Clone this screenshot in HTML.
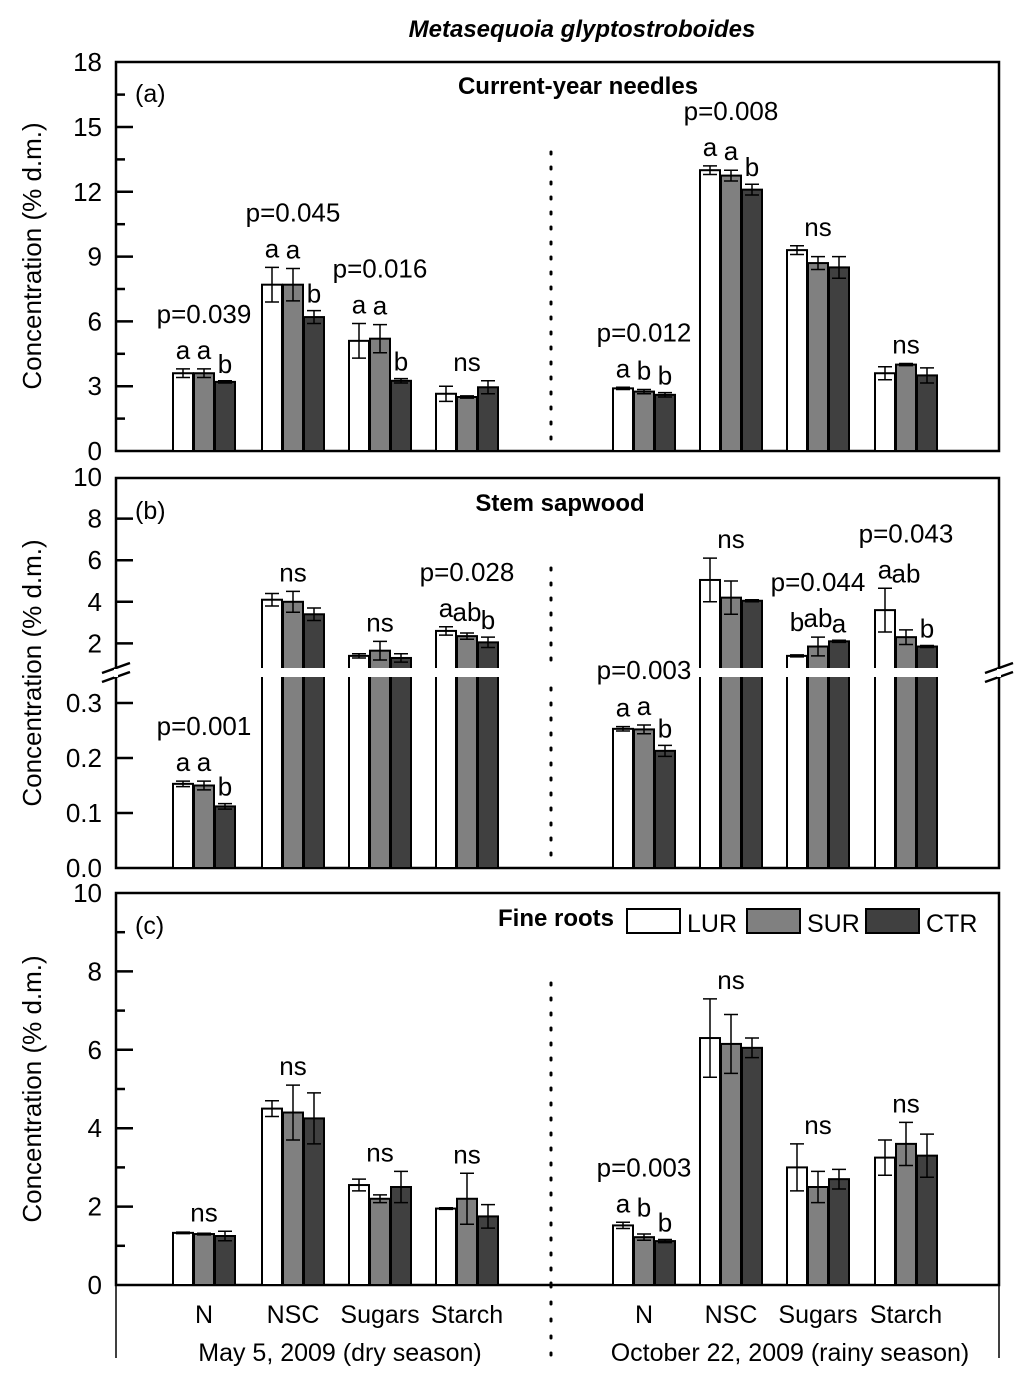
<!DOCTYPE html>
<html><head><meta charset="utf-8"><style>
body{margin:0;background:#fff}
svg{display:block;font-family:"Liberation Sans",Arial,sans-serif}
</style></head><body>
<svg id="chart" width="1024" height="1382" viewBox="0 0 1024 1382" xmlns="http://www.w3.org/2000/svg">
<text x="582" y="37" font-size="24" font-weight="bold" font-style="italic" text-anchor="middle">Metasequoia glyptostroboides</text>
<g id="g"></g>
</svg>
<script>
const categories = ["N","NSC","Sugars","Starch","N","NSC","Sugars","Starch"];
const seasons = ["May 5, 2009 (dry season)","October 22, 2009 (rainy season)"];
const seriesNames = ["LUR","SUR","CTR"];
// panel a
const aVals = [[3.6,3.6,3.2],[7.7,7.7,6.2],[5.1,5.2,3.25],[2.65,2.5,2.95],[2.9,2.75,2.6],[13.0,12.75,12.1],[9.3,8.7,8.5],[3.6,4.0,3.5]];
const aErrs = [[0.2,0.2,0.05],[0.8,0.75,0.3],[0.8,0.65,0.1],[0.35,0.05,0.3],[0.05,0.1,0.1],[0.2,0.25,0.25],[0.2,0.3,0.5],[0.3,0.05,0.35]];
const aLetters = [["a","a","b"],["a","a","b"],["a","a","b"],null,["a","b","b"],["a","a","b"],null,null];
const aP = ["p=0.039","p=0.045","p=0.016","ns","p=0.012","p=0.008","ns","ns"];
// panel b
const bVals = [[0.153,0.15,0.112],[4.1,4.0,3.4],[1.4,1.65,1.3],[2.6,2.35,2.05],[0.253,0.252,0.213],[5.05,4.2,4.05],[1.4,1.85,2.1],[3.6,2.3,1.85]];
const bErrs = [[0.005,0.008,0.005],[0.3,0.5,0.3],[0.1,0.45,0.2],[0.2,0.15,0.25],[0.004,0.008,0.01],[1.05,0.8,0.05],[0.05,0.45,0.05],[1.05,0.35,0.05]];
const bLetters = [["a","a","b"],null,null,["a","ab","b"],["a","a","b"],null,["b","ab","a"],["a","ab","b"]];
const bP = ["p=0.001","ns","ns","p=0.028","p=0.003","ns","p=0.044","p=0.043"];
// panel c
const cVals = [[1.33,1.3,1.25],[4.5,4.4,4.25],[2.55,2.2,2.5],[1.95,2.2,1.75],[1.52,1.22,1.12],[6.3,6.15,6.05],[3.0,2.5,2.7],[3.25,3.6,3.3]];
const cErrs = [[0.02,0.02,0.12],[0.2,0.7,0.65],[0.15,0.1,0.4],[0.02,0.65,0.3],[0.08,0.08,0.04],[1.0,0.75,0.25],[0.6,0.4,0.25],[0.45,0.55,0.55]];
const cLetters = [null,null,null,null,["a","b","b"],null,null,null];
const cP = ["ns","ns","ns","ns","p=0.003","ns","ns","ns"];
const aTicks = [0,3,6,9,12,15,18];
const bTicksLow = ["0.0","0.1","0.2","0.3"];
const bTicksHigh = [2,4,6,8,10];
const cTicks = [0,2,4,6,8,10];

const NS="http://www.w3.org/2000/svg";
const G=document.getElementById('g');
function el(t,a,txt){const e=document.createElementNS(NS,t);for(const k in a)e.setAttribute(k,a[k]);if(txt!==undefined)e.textContent=txt;G.appendChild(e);return e;}
const L=116,R=999,BW=20;
const groupStart=[173,262,349,436,613,700,787,875];
const fills=["#ffffff","#808080","#404040"];
function xBar(ci,si){return groupStart[ci]+si*21;}
const yA=v=>451-v*21.6;
const yB=v=>v<0.34?868-v*550:685-v*20.8;
const yC=v=>1285-v*39.2;

function panel(top,bottom,name){
  const f=el('rect',{x:L,y:top,width:R-L,height:bottom-top,fill:'none',stroke:'#000','stroke-width':2.5});
  
  
  const d=el('line',{x1:551,y1:top+90,x2:551,y2:bottom,stroke:'#000','stroke-width':3,'stroke-dasharray':'2 13','stroke-linecap':'round'});
  
  
}
function tick(y,len,name){const t=el('line',{x1:L,y1:y,x2:L+len,y2:y,stroke:'#000','stroke-width':2.5});}
function tlabel(y,s,name){const t=el('text',{x:L-14,y:y+9,'font-size':26,'text-anchor':'end'},s);}
function bars(vals,errs,ys,pname){
  vals.forEach((g,ci)=>g.forEach((v,si)=>{
    const x=xBar(ci,si),y=ys(v),base=ys(0);
    const r=el('rect',{x:x,y:y,width:BW,height:base-y,fill:fills[si],stroke:'#000','stroke-width':2});
    
    
    const e=errs[ci][si],cx=x+BW/2,y1=ys(v+e),y2=ys(Math.max(v-e,0.0001));
    const eb=el('path',{d:`M${cx-7},${y1}H${cx+7}M${cx},${y1}V${y2}M${cx-7},${y2}H${cx+7}`,stroke:'#000','stroke-width':1.5,fill:'none'});
    
    
  }));
}
function annot(vals,errs,letters,ps,ys,pname){
  vals.forEach((g,ci)=>{
    let top=Math.min(...g.map((v,si)=>ys(v+errs[ci][si])));
    let pb=top-10;
    if(letters[ci]){
      letters[ci].forEach((l,si)=>{
        const ey=ys(g[si]+errs[ci][si]);
        const t=el('text',{x:xBar(ci,si)+BW/2,y:(si===2?ey-8:Math.min(ey, top+4)-10),'font-size':26,'text-anchor':'middle'},l);
        
        
      });
      pb=top-46;
    }
    const t=el('text',{x:groupStart[ci]+31,y:pb,'font-size':26,'text-anchor':'middle'},ps[ci]);
    
    
  });
}
function ylabel(cy,name){const t=el('text',{x:0,y:0,'font-size':26,'text-anchor':'middle',transform:`translate(41,${cy}) rotate(-90)`},'Concentration (% d.m.)');}
function ptitle(x,y,s,name){const t=el('text',{x:x,y:y,'font-size':24,'font-weight':'bold','text-anchor':'middle'},s);}
function plabel(y,s,name){const t=el('text',{x:135,y:y,'font-size':25},s);}

// Panel a
panel(62,451,'panel-a');
for(let v=1.5;v<18;v+=1.5){tick(yA(v),v%3===0?17:9,'panel-a-tick');}
aTicks.forEach(v=>tlabel(yA(v),String(v),'panel-a-tick-label'));
bars(aVals,aErrs,yA,'panel-a');
annot(aVals,aErrs,aLetters,aP,yA,'panel-a');
ylabel(256,'panel-a-y-axis-title');
ptitle(578,94,'Current-year needles','panel-a-title');
plabel(102,'(a)','panel-a-label');

// Panel b
panel(478,868,'panel-b');
bTicksLow.forEach(s=>{const v=parseFloat(s);if(v>0)tick(yB(v),17,'panel-b-tick');tlabel(yB(v),s,'panel-b-tick-label');});
bTicksHigh.forEach(v=>{if(v<10)tick(yB(v),17,'panel-b-tick');tlabel(yB(v),String(v),'panel-b-tick-label');});
bars(bVals,bErrs,yB,'panel-b');
const band=el('rect',{x:L+2,y:668,width:R-L-4,height:9,fill:'#fff'});


[L,R].forEach(x=>{const b=el('path',{d:`M${x-14},${673}L${x+14},${663}M${x-14},${682}L${x+14},${672}`,stroke:'#000','stroke-width':2.5,fill:'none'});const w=el('rect',{x:x-2,y:669,width:4,height:8,fill:'#fff'});});
annot(bVals,bErrs,bLetters,bP,yB,'panel-b');
ylabel(673,'panel-b-y-axis-title');
ptitle(560,511,'Stem sapwood','panel-b-title');
plabel(519,'(b)','panel-b-label');

// Panel c
panel(893,1285,'panel-c');
for(let v=1;v<10;v++){tick(yC(v),v%2===0?17:9,'panel-c-tick');}
cTicks.forEach(v=>tlabel(yC(v),String(v),'panel-c-tick-label'));
bars(cVals,cErrs,yC,'panel-c');
annot(cVals,cErrs,cLetters,cP,yC,'panel-c');
ylabel(1089,'panel-c-y-axis-title');
ptitle(556,926,'Fine roots','panel-c-title');
plabel(934,'(c)','panel-c-label');
// legend
const legX=[627,747,866];
seriesNames.forEach((n,i)=>{
  const r=el('rect',{x:legX[i],y:909,width:53,height:24,fill:fills[i],stroke:'#000','stroke-width':2});
  
  
  const t=el('text',{x:legX[i]+60,y:932,'font-size':25},n);
  
  
});

// bottom axis extensions
[L,R].forEach(x=>{const l=el('line',{x1:x,y1:1285,x2:x,y2:1358,stroke:'#000','stroke-width':1.5});});
const dl=el('line',{x1:551,y1:1285,x2:551,y2:1358,stroke:'#000','stroke-width':3,'stroke-dasharray':'2 15','stroke-linecap':'round'});


categories.forEach((c,ci)=>{
  const t=el('text',{x:groupStart[ci]+31,y:1323,'font-size':25,'text-anchor':'middle'},c);
  
  
});
seasons.forEach((s,i)=>{
  const t=el('text',{x:i===0?340:790,y:1361,'font-size':25,'text-anchor':'middle'},s);
  
  
});
</script>
</body></html>
